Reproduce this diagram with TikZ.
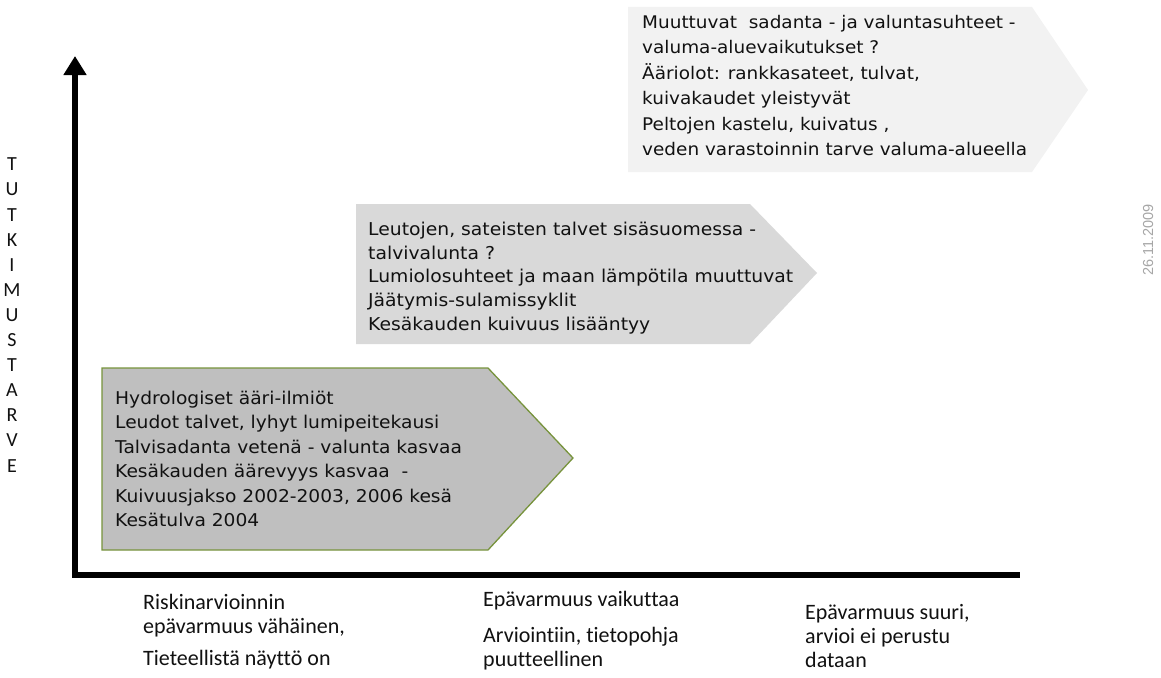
\documentclass[tikz,border=0pt]{standalone}
\usepackage{fontspec}
\setmainfont{DejaVu Sans}
\newfontfamily\boxfont[FakeStretch=1.06]{DejaVu Sans}
\newfontfamily\labfont[Ligatures=NoCommon]{Carlito}
\newfontfamily\datefont{Liberation Sans}
\usetikzlibrary{arrows.meta}
\definecolor{boxA}{HTML}{BFBFBF}
\definecolor{boxAline}{HTML}{77933C}
\definecolor{boxB}{HTML}{D9D9D9}
\definecolor{boxC}{HTML}{F2F2F2}
\definecolor{dategray}{HTML}{A6A6A6}
\definecolor{txt}{HTML}{111111}
\tikzset{
  axisline/.style={line width=6pt, black},
  boxtext/.style={anchor=base west, align=left, inner sep=0pt, text=txt},
  bottomlabel/.style={anchor=base west, align=left, inner sep=0pt, text=txt,
    font={\labfont\fontsize{22}{24}\selectfont}},
}
\begin{document}
\begin{tikzpicture}[x=1pt,y=-1pt]
\useasboundingbox (0,0) rectangle (1161,677);
% axes
\coordinate (O) at (75,575);
\coordinate (Ox) at (72,575);
\coordinate (ytop) at (75,56);
\coordinate (xend) at (1020,575);
\draw[axisline] (Ox) -- (xend);
\draw[axisline, -{Triangle[width=22pt,length=19pt]}] (O) -- (ytop);
% box 3 (top)
\fill[boxC] (628,7) -- (1032,7) -- (1088,90) -- (1032,172) -- (628,172) -- cycle;
\node[boxtext, font={\boxfont\fontsize{17.4}{25.5}\selectfont}] (t3) at (642,155.8)
 {Muuttuvat\ \ sadanta - ja valuntasuhteet -\\
  valuma-aluevaikutukset ?\\
  Ääriolot: rankkasateet, tulvat,\\
  kuivakaudet yleistyvät\\
  Peltojen kastelu, kuivatus ,\\
  veden varastoinnin tarve valuma-alueella};
% box 2 (middle)
\fill[boxB] (356,204) -- (750,204) -- (817,273) -- (750,344) -- (356,344) -- cycle;
\node[boxtext, font={\boxfont\fontsize{17.7}{23.6}\selectfont}] (t2) at (368,330.1)
 {Leutojen, sateisten talvet sisäsuomessa -\\
  talvivalunta ?\\
  Lumiolosuhteet ja maan lämpötila muuttuvat\\
  Jäätymis-sulamissyklit\\
  Kesäkauden kuivuus lisääntyy};
% box 1 (bottom)
\filldraw[fill=boxA, draw=boxAline, line width=1.3pt] (102,368) -- (488,368) -- (573,458) -- (488,550) -- (102,550) -- cycle;
\node[boxtext, font={\boxfont\fontsize{17.6}{24.5}\selectfont}] (t1) at (115,526.5)
 {Hydrologiset ääri-ilmiöt\\
  Leudot talvet, lyhyt lumipeitekausi\\
  Talvisadanta vetenä - valunta kasvaa\\
  Kesäkauden äärevyys kasvaa\ \ -\\
  Kuivuusjakso 2002-2003, 2006 kesä\\
  Kesätulva 2004};
% vertical axis label
\node[anchor=base, align=center, inner sep=0pt, text=txt, font={\labfont\fontsize{20}{25.1}\selectfont}] (ylab) at (12,472)
 {T\\U\\T\\K\\I\\M\\U\\S\\T\\A\\R\\V\\E};
% bottom labels
\node[bottomlabel] (b1) at (143,665)
 {Riskinarvioinnin\\epävarmuus vähäinen,\\[8pt]Tieteellistä näyttö on};
\node[bottomlabel] (b2) at (483,666)
 {Epävarmuus vaikuttaa\\[12pt]Arviointiin, tietopohja\\puutteellinen};
\node[bottomlabel] (b3) at (805,667)
 {Epävarmuus suuri,\\arvioi ei perustu\\dataan};
% date
\node[rotate=90, inner sep=0pt, text=dategray, font={\datefont\fontsize{14.5}{16}\selectfont}] (date) at (1148,240) {26.11.2009};
\end{tikzpicture}
\end{document}
